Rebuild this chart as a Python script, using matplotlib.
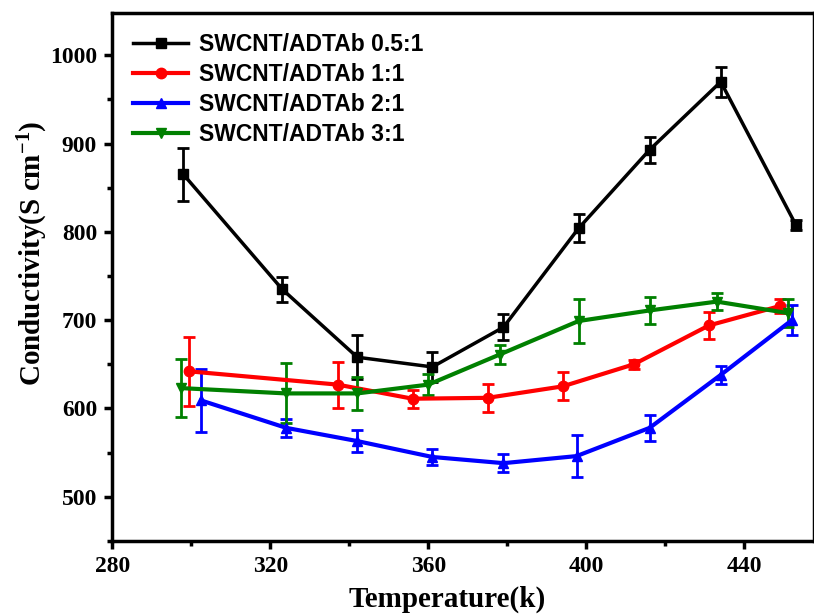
import matplotlib
matplotlib.use('Agg')
import matplotlib.pyplot as plt
from matplotlib.lines import Line2D
from matplotlib.ticker import MultipleLocator

# Data
t_05 = [298, 323, 342, 361, 379, 398, 416, 434, 453]
c_05 = [865, 735, 658, 647, 692, 804, 893, 970, 808]
e_05 = [30, 14, 25, 17, 15, 16, 15, 17, 6]

t_1 = [299.5, 337, 356, 375, 394, 412, 431, 449]
c_1 = [642, 627, 611, 612, 625, 650, 694, 716]
e_1 = [39, 26, 10, 16, 16, 5, 15, 8]

t_2 = [302.5, 324, 342, 361, 379, 397.5, 416, 434, 452]
c_2 = [609, 578, 563, 545, 538, 546, 578, 638, 700]
e_2 = [36, 10, 12, 9, 10, 24, 15, 10, 17]

t_3 = [297.5, 324, 342, 360, 378, 398, 416, 433, 451]
c_3 = [623, 617, 617, 627, 661, 699, 711, 721, 708]
e_3 = [33, 34, 19, 12, 11, 25, 15, 10, 16]

labels = ['SWCNT/ADTAb 0.5:1', 'SWCNT/ADTAb 1:1',
          'SWCNT/ADTAb 2:1', 'SWCNT/ADTAb 3:1']

series = [
    (t_05, c_05, e_05, 'black', 's', 2.5, 6.5),
    (t_1,  c_1,  e_1,  'red',   'o', 3.0, 7.5),
    (t_2,  c_2,  e_2,  'blue',  '^', 3.0, 7.5),
    (t_3,  c_3,  e_3,  'green', 'v', 3.0, 7.5),
]

plt.rcParams['mathtext.fontset'] = 'custom'
plt.rcParams['mathtext.rm'] = 'Liberation Serif:bold'
plt.rcParams['mathtext.default'] = 'rm'

fig = plt.figure(figsize=(8.14, 6.16), dpi=100)
ax = fig.add_axes([0.138, 0.122, 0.862, 0.857])

handles = []
for (t, c, e, col, mk, lw, ms), lab in zip(series, labels):
    ax.errorbar(t, c, yerr=e, color=col, marker=mk, markersize=ms,
                linewidth=lw, elinewidth=2, capsize=4, capthick=2)
    handles.append(Line2D([], [], color=col, marker=mk, markersize=ms,
                          linewidth=lw, label=lab))

ax.set_xlim(280, 457.6)
ax.set_ylim(450, 1048)
ax.xaxis.set_major_locator(MultipleLocator(40))
ax.xaxis.set_minor_locator(MultipleLocator(20))
ax.yaxis.set_major_locator(MultipleLocator(100))
ax.yaxis.set_minor_locator(MultipleLocator(50))

for s in ax.spines.values():
    s.set_linewidth(2.5)
ax.tick_params(which='major', direction='out', length=6, width=2.5,
               top=False, right=False, pad=5)
ax.tick_params(which='minor', direction='out', length=3.5, width=2.5,
               top=False, right=False)

for lbl in ax.get_xticklabels() + ax.get_yticklabels():
    lbl.set_fontfamily('Liberation Serif')
    lbl.set_fontweight('bold')
    lbl.set_fontsize(17)

ax.set_xlabel('Temperature(k)', family='Liberation Serif', weight='bold',
              size=21)
ax.set_ylabel('Conductivity(S cm$^{-1}$)', family='Liberation Serif',
              weight='bold', size=21)
ax.xaxis.set_label_coords(0.477, -0.085)
ax.yaxis.set_label_coords(-0.089, 0.545)

ax.legend(handles=handles, loc='upper left', frameon=False,
          prop={'family': 'Liberation Sans', 'weight': 'bold', 'size': 16.5},
          handlelength=2.4, handletextpad=0.45, labelspacing=0.3,
          borderpad=0, borderaxespad=0, bbox_to_anchor=(0.03, 0.962))

fig.savefig('out.png', dpi=100)
